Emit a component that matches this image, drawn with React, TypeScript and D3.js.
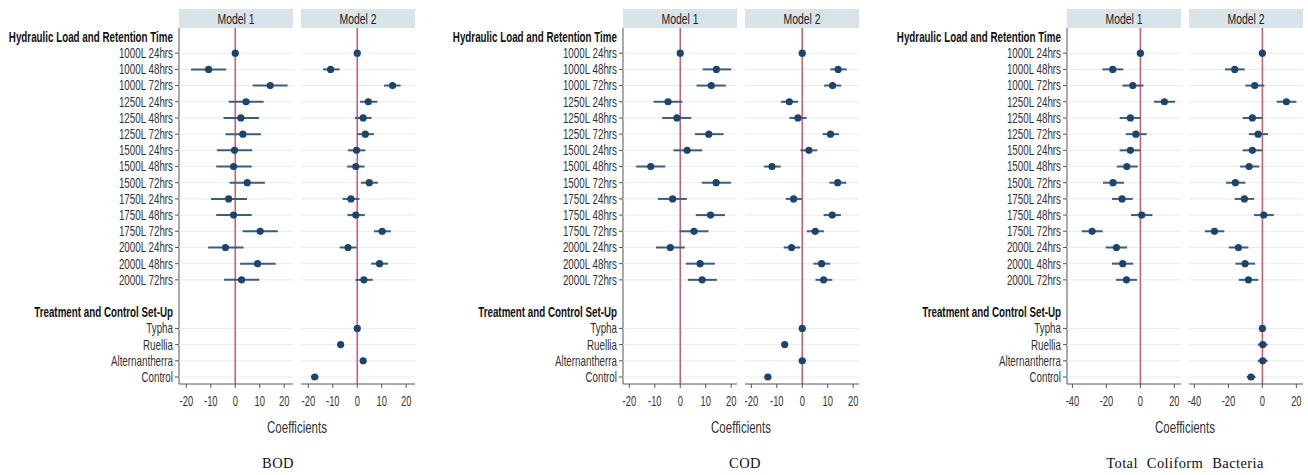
import React from 'react';
import * as d3 from 'd3';

// row labels
const hydraulicRows = [
  '1000L 24hrs', '1000L 48hrs', '1000L 72hrs',
  '1250L 24hrs', '1250L 48hrs', '1250L 72hrs',
  '1500L 24hrs', '1500L 48hrs', '1500L 72hrs',
  '1750L 24hrs', '1750L 48hrs', '1750L 72hrs',
  '2000L 24hrs', '2000L 48hrs', '2000L 72hrs',
];
const treatmentRows = ['Typha', 'Ruellia', 'Alternantherra', 'Control'];
const modelNames = ['Model 1', 'Model 2'];
const groupTitles = ['Hydraulic Load and Retention Time', 'Treatment and Control Set-Up'];
const panelTitles = ['BOD', 'COD', 'Total Coliform Bacteria'];
const ticks20 = [-20, -10, 0, 10, 20];
const ticks40 = [-40, -20, 0, 20];

// BOD
const bodM1Est = [0, -10.9, 14.3, 4.4, 2.3, 3.1, -0.3, -0.7, 4.9, -2.7, -0.7, 10.2, -4.0, 9.1, 2.6];
const bodM1Lo = [0, -18.1, 7.1, -2.7, -4.8, -4.0, -7.5, -7.8, -2.3, -9.9, -7.8, 3.0, -11.1, 2.0, -4.6];
const bodM1Hi = [0, -3.7, 21.4, 11.6, 9.7, 10.5, 6.9, 6.7, 12.1, 4.8, 6.7, 17.4, 3.4, 16.5, 9.8];
const bodM2Est = [0, -10.9, 14.4, 4.5, 2.4, 3.3, -0.3, -0.6, 4.9, -2.6, -0.6, 10.2, -3.8, 9.1, 2.7, 0, -6.8, 2.4, -17.4];
const bodM2Lo = [0, -14.0, 10.9, 1.1, -1.0, 0, -3.8, -4.1, 1.5, -6.0, -4.0, 6.8, -7.2, 5.7, -0.7, 0, -8.1, 1.1, -18.9];
const bodM2Hi = [0, -7.2, 17.7, 8.2, 5.8, 6.8, 3.3, 3.0, 8.4, 0.9, 3.1, 13.7, -0.3, 12.6, 6.3, 0, -5.5, 3.7, -15.9];

// COD
const codM1Est = [0, 14.2, 12.2, -4.8, -1.3, 11.2, 2.7, -11.6, 14.1, -3.0, 11.9, 5.4, -3.9, 7.8, 8.6];
const codM1Lo = [0, 8.8, 6.4, -10.5, -7.1, 5.8, -2.7, -17.3, 8.5, -8.8, 6.1, -0.3, -9.5, 2.2, 3.0];
const codM1Hi = [0, 20.0, 17.9, 0.8, 4.3, 17.0, 8.6, -5.9, 19.9, 2.6, 17.6, 11.1, 1.8, 13.6, 14.4];
const codM2Est = [0, 14.1, 11.9, -5.1, -1.7, 11.1, 2.6, -11.9, 13.9, -3.4, 11.8, 5.1, -4.2, 7.6, 8.4, 0, -6.9, 0, -13.5];
const codM2Lo = [0, 11.0, 8.6, -8.4, -5.0, 8.0, -0.7, -15.0, 10.7, -6.5, 8.4, 1.8, -7.3, 4.4, 5.2, 0, -8.2, -1.3, -14.8];
const codM2Hi = [0, 17.5, 15.3, -1.7, 1.7, 14.4, 5.9, -8.5, 17.3, -0.2, 15.2, 8.5, -0.8, 11.0, 11.8, 0, -5.6, 1.3, -12.2];

// Total coliform bacteria
const tcbM1Est = [0, -16.3, -4.5, 14.1, -5.9, -2.7, -5.9, -8.0, -16.1, -10.8, 0.8, -28.4, -14.1, -10.4, -8.2];
const tcbM1Lo = [0, -22.4, -10.6, 8.0, -12.2, -8.6, -12.2, -13.9, -22.0, -16.7, -5.5, -34.5, -20.4, -16.7, -14.3];
const tcbM1Hi = [0, -10.0, 1.8, 20.4, 0, 3.7, 0, -1.6, -9.6, -4.5, 7.1, -22.2, -7.8, -4.3, -2.0];
const tcbM2Est = [0, -16.3, -4.5, 14.1, -5.9, -2.5, -5.9, -7.8, -15.9, -10.6, 0.8, -28.2, -14.1, -10.2, -8.2, 0, 0.2, 0.2, -6.7];
const tcbM2Lo = [0, -22.0, -10.0, 8.4, -11.6, -8.0, -11.6, -13.1, -21.4, -16.3, -4.9, -33.9, -19.8, -15.9, -13.9, 0, -2.7, -2.7, -9.2];
const tcbM2Hi = [0, -10.4, 1.2, 20.0, -0.2, 3.3, -0.2, -1.8, -10.0, -4.9, 6.7, -22.4, -8.2, -4.3, -2.4, 0, 3.1, 3.1, -4.1];

const panels = [
  { title: panelTitles[0], left: 179, captionX: 278, domain: [-23, 23.6], ticks: ticks20,
    models: [[bodM1Est, bodM1Lo, bodM1Hi], [bodM2Est, bodM2Lo, bodM2Hi]] },
  { title: panelTitles[1], left: 623, captionX: 745, domain: [-22.5, 22.3], ticks: ticks20,
    models: [[codM1Est, codM1Lo, codM1Hi], [codM2Est, codM2Lo, codM2Hi]] },
  { title: panelTitles[2], left: 1067, captionX: 1185, domain: [-43.2, 23.9], ticks: ticks40,
    models: [[tcbM1Est, tcbM1Lo, tcbM1Hi], [tcbM2Est, tcbM2Lo, tcbM2Hi]] },
];

const facetW = 114;
const facetGap = 8;
const plotTop = 28;
const plotBottom = 384;
const sans = '"Liberation Sans", Arial, sans-serif';

const allRows = [...hydraulicRows, ...treatmentRows];
const slots = ['hdr1', ...hydraulicRows, 'gap', 'hdr2', ...treatmentRows];
const y = d3.scalePoint<string>().domain(slots).range([37, 377]);

// the original uses a narrow font; squeeze a regular one horizontally
const NText = ({ x, y, anchor = 'start', size = 14, sx = 0.7, weight = 'normal', fill = '#333', children }: any) => (
  <text transform={`translate(${x},${y}) scale(${sx},1)`} dy="0.35em" textAnchor={anchor}
    fontFamily={sans} fontSize={size} fontWeight={weight} fill={fill}>{children}</text>
);

const Panel = ({ p }: { p: typeof panels[number] }) => {
  return (
    <g>
      <NText x={p.left - 6} y={y('hdr1')} anchor="end" weight="bold" fill="#111">{groupTitles[0]}</NText>
      <NText x={p.left - 6} y={y('hdr2')} anchor="end" weight="bold" fill="#111">{groupTitles[1]}</NText>
      {allRows.map(r => (
        <g key={r}>
          <NText x={p.left - 6} y={y(r)} anchor="end">{r}</NText>
          <line x1={p.left - 4} x2={p.left} y1={y(r)} y2={y(r)} stroke="#555" />
        </g>
      ))}
      <line x1={p.left} x2={p.left} y1={plotTop} y2={plotBottom} stroke="#555" />

      {p.models.map(([est, lo, hi], m) => {
        const x0 = p.left + m * (facetW + facetGap);
        const x = d3.scaleLinear().domain(p.domain).range([x0, x0 + facetW]);
        return (
          <g key={m}>
            <rect x={x0} y={9} width={facetW} height={19} fill="#d9e3ea" />
            <NText x={x0 + facetW / 2} y={18.5} anchor="middle" size={14.5} sx={0.72} fill="#222">{modelNames[m]}</NText>
            {allRows.map(r => (
              <line key={r} x1={x0} x2={x0 + facetW} y1={y(r)} y2={y(r)} stroke="#e6ecf0" strokeWidth={1} />
            ))}
            <line x1={x(0)} x2={x(0)} y1={plotTop} y2={plotBottom} stroke="#c6607a" strokeWidth={1.6} />
            {est.map((v, i) => (
              <g key={i}>
                {hi[i] > lo[i] && (
                  <line x1={x(lo[i])} x2={x(hi[i])} y1={y(allRows[i])} y2={y(allRows[i])}
                    stroke="#3a5d80" strokeWidth={2} />
                )}
                <circle cx={x(v)} cy={y(allRows[i])} r={3.6} fill="#1b4570" />
              </g>
            ))}
            <line x1={x0} x2={x0 + facetW} y1={plotBottom} y2={plotBottom} stroke="#555" />
            {p.ticks.map(t => (
              <g key={t}>
                <line x1={x(t)} x2={x(t)} y1={plotBottom} y2={plotBottom + 4} stroke="#555" />
                <NText x={x(t)} y={401.5} anchor="middle" size={14} sx={0.67}>{t}</NText>
              </g>
            ))}
          </g>
        );
      })}
      <NText x={p.left + facetW + facetGap / 2} y={427} anchor="middle" size={16} sx={0.72}>Coefficients</NText>
      <text x={p.captionX} y={463} dy="0.35em" textAnchor="middle"
        fontFamily='"Liberation Serif", "Times New Roman", serif' fontSize={14.5} fill="#111"
        wordSpacing={5} letterSpacing={0.4}>{p.title}</text>
    </g>
  );
};

export default function App() {
  return (
    <svg width={1308} height={475} style={{ position: 'absolute', left: 0, top: 0, background: '#fff' }}>
      {panels.map(p => <Panel key={p.title} p={p} />)}
    </svg>
  );
}
